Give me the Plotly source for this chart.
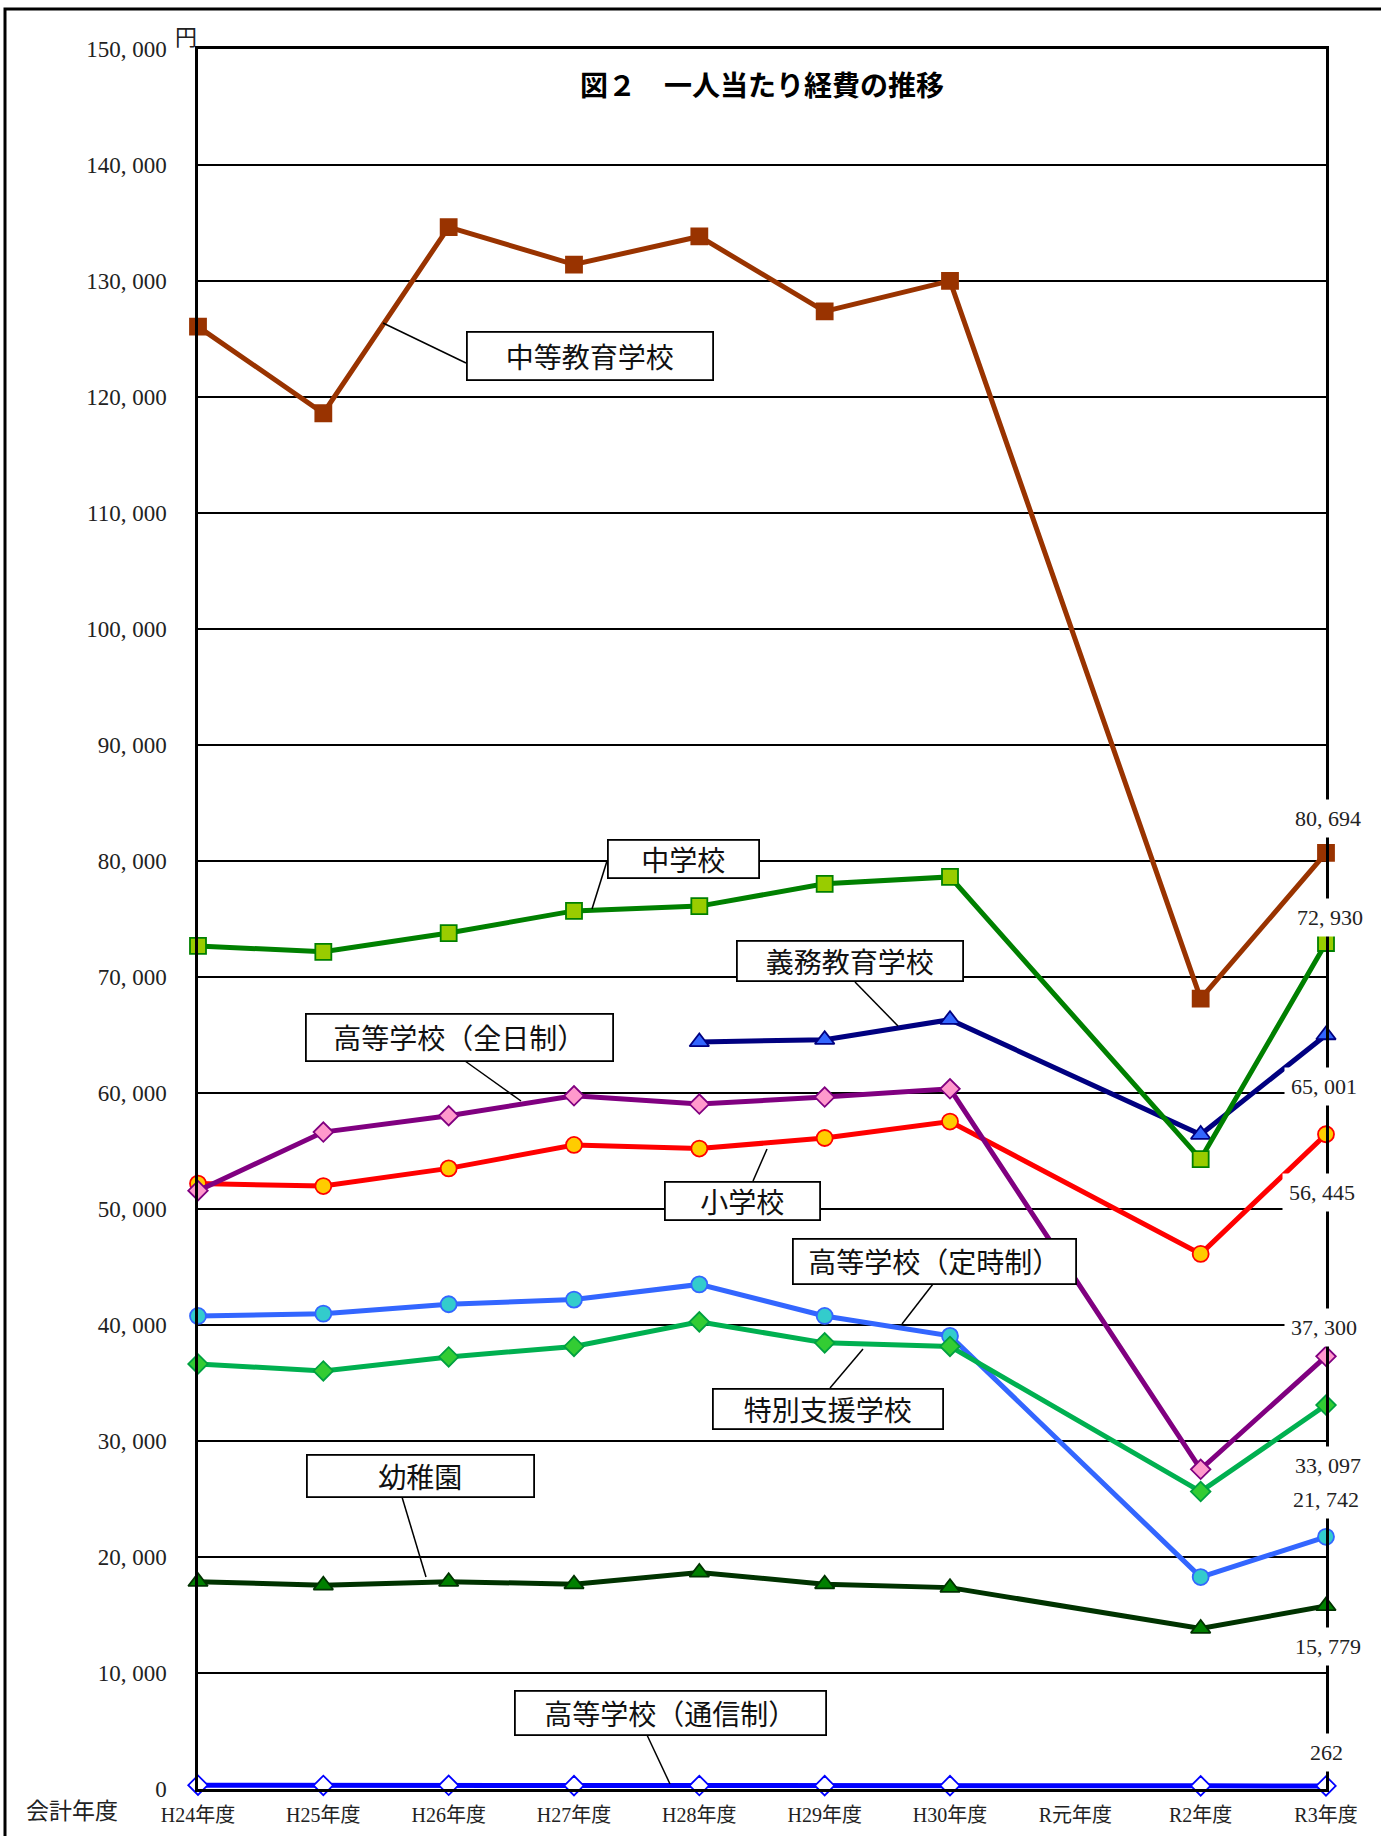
import plotly.graph_objects as go

# ---------------- data ----------------
categories = ["H24年度", "H25年度", "H26年度", "H27年度", "H28年度",
              "H29年度", "H30年度", "R元年度", "R2年度", "R3年度"]

yochien   = [17870, 17560, 17870, 17660, 18670, 17660, 17360, None, 13830, 15779]
shogakko  = [52190, 51980, 53500, 55520, 55210, 56120, 57540, None, 46130, 56445]
gimu      = [None, None, None, None, 64400, 64600, 66320, None, 56420, 65001]
chugakko  = [72680, 72170, 73790, 75700, 76110, 78030, 78630, None, 54300, 72930]
chuto     = [126070, 118600, 134650, 131420, 133840, 127380, 130010, None, 68130, 80694]
zennichi  = [51580, 56630, 58040, 59760, 59050, 59650, 60360, None, 27560, 37300]
teiji     = [40780, 40980, 41790, 42190, 43500, 40780, 39060, None, 18270, 21742]
tsushin   = [330, 310, 320, 290, 300, 290, 290, None, 270, 262]
tokubetsu = [36640, 36040, 37250, 38150, 40270, 38460, 38150, None, 25640, 33097]

y_tick_values = [0, 10000, 20000, 30000, 40000, 50000, 60000, 70000, 80000,
                 90000, 100000, 110000, 120000, 130000, 140000, 150000]
y_tick_labels = ["0", "10, 000", "20, 000", "30, 000", "40, 000", "50, 000",
                 "60, 000", "70, 000", "80, 000", "90, 000", "100, 000",
                 "110, 000", "120, 000", "130, 000", "140, 000", "150, 000"]

title_text = "図２　一人当たり経費の推移"
unit_text = "円"
xaxis_title = "会計年度"

# ---------------- layout geometry (pixels) ----------------
W, H = 1381, 1836
L, R, T, B = 198, 1326, 49, 1789
PW, PH = R - L, B - T


def px(x):
    return (x - L) / PW


def py(y):
    return (B - y) / PH


SERIF = "Liberation Serif, DejaVu Serif, serif"
JP = "Noto Sans CJK JP, sans-serif"
MIX = "Liberation Serif, Noto Sans CJK JP, serif"

# name, values, line color, marker symbol, marker fill, marker border, size
series = [
    ("幼稚園", yochien, "#003300", "triangle-up", "#008000", "#003300", 17),
    ("小学校", shogakko, "#FF0000", "circle", "#FFCC00", "#FF0000", 16),
    ("義務教育学校", gimu, "#000080", "triangle-up", "#3366FF", "#000080", 17),
    ("中学校", chugakko, "#008000", "square", "#99CC00", "#008000", 16),
    ("中等教育学校", chuto, "#993300", "square", "#993300", "#993300", 16),
    ("高等学校（全日制）", zennichi, "#800080", "diamond", "#FF99CC", "#800080", 15),
    ("高等学校（定時制）", teiji, "#3366FF", "circle", "#33CCCC", "#3366FF", 16),
    ("高等学校（通信制）", tsushin, "#0000FF", "diamond", "#FFFFFF", "#0000FF", 15),
    ("特別支援学校", tokubetsu, "#00B050", "diamond", "#33CC33", "#00A040", 15),
]

fig = go.Figure()
for name, vals, lc, sym, fill, border, size in series:
    fig.add_trace(go.Scatter(
        x=categories, y=vals, name=name, mode="lines+markers",
        connectgaps=True, cliponaxis=False,
        line=dict(color=lc, width=5),
        marker=dict(symbol=sym, size=size, color=fill,
                    line=dict(color=border, width=1.8)),
    ))

annotations = []
shapes = []

# outer frame
shapes.append(dict(type="rect", xref="paper", yref="paper",
                   x0=px(5), y0=py(9), x1=px(W + 20), y1=py(H + 20),
                   line=dict(color="black", width=3), fillcolor="rgba(0,0,0,0)",
                   layer="below"))

# callout boxes: name -> (box x0, y0, x1, y1, leader start, leader end)
callouts = {
    "中等教育学校": (466, 331, 713, 380, (466, 363), (383, 323)),
    "中学校": (607, 839, 759, 878, (607, 861), (592, 909)),
    "義務教育学校": (736, 941, 963, 982, (855, 982), (898, 1026)),
    "高等学校（全日制）": (305, 1013, 613, 1061, (465, 1061), (521, 1101)),
    "小学校": (664, 1181, 820, 1220, (753, 1181), (767, 1149)),
    "高等学校（定時制）": (792, 1238, 1076, 1284, (933, 1284), (902, 1324)),
    "特別支援学校": (712, 1388, 943, 1429, (830, 1388), (863, 1349)),
    "幼稚園": (306, 1454, 534, 1497, (402, 1497), (426, 1577)),
    "高等学校（通信制）": (514, 1690, 826, 1735, (647, 1735), (670, 1784)),
}
for name, (x0, y0, x1, y1, p0, p1) in callouts.items():
    shapes.append(dict(type="line", xref="paper", yref="paper",
                       x0=px(p0[0]), y0=py(p0[1]), x1=px(p1[0]), y1=py(p1[1]),
                       line=dict(color="black", width=1.5)))
    annotations.append(dict(
        xref="paper", yref="paper", x=px((x0 + x1) / 2), y=py((y0 + y1) / 2),
        xanchor="center", yanchor="middle", showarrow=False,
        text=name, font=dict(family=JP, size=28, color="#111111"),
        width=x1 - x0 - 3, height=y1 - y0 - 3, borderpad=0,
        bordercolor="black", borderwidth=1.8, bgcolor="white", align="center",
    ))

# value labels at last point (R3)
label_offsets = {
    "中等教育学校": (2, 34), "中学校": (4, 26), "義務教育学校": (-2, -52),
    "小学校": (-4, -58), "高等学校（全日制）": (-2, 29), "特別支援学校": (2, -60),
    "高等学校（定時制）": (0, 37), "幼稚園": (2, -41), "高等学校（通信制）": (0, 33),
}
for name, vals, *_ in series:
    v = vals[-1]
    dx, dy = label_offsets[name]
    annotations.append(dict(
        x=categories[-1], y=v, xref="x", yref="y", showarrow=False,
        text=f"{v:,}".replace(",", ", "), xshift=dx, yshift=dy,
        font=dict(family=SERIF, size=22, color="#222222"),
        bgcolor="white", borderpad=6, xanchor="center", yanchor="middle",
    ))

# title
annotations.append(dict(xref="paper", yref="paper", x=px(762), y=py(84),
                        xanchor="center", yanchor="middle", showarrow=False,
                        text=title_text,
                        font=dict(family=JP, size=28, color="black", weight="bold")))
# unit
annotations.append(dict(xref="paper", yref="paper", x=px(186), y=py(35),
                        xanchor="center", yanchor="middle", showarrow=False,
                        text=unit_text, font=dict(family=JP, size=22, color="#222222")))
# x-axis title
annotations.append(dict(xref="paper", yref="paper", x=px(72), y=py(1809),
                        xanchor="center", yanchor="middle", showarrow=False,
                        text=xaxis_title, font=dict(family=JP, size=23, color="#222222")))

fig.update_layout(
    width=W, height=H, autosize=False,
    margin=dict(l=L, r=W - R, t=T, b=H - B, pad=0, autoexpand=False),
    paper_bgcolor="white", plot_bgcolor="white",
    showlegend=False,
    annotations=annotations, shapes=shapes,
    xaxis=dict(type="category", categoryorder="array", categoryarray=categories,
               range=[0, len(categories) - 1], showgrid=False, zeroline=False,
               automargin=False,
               showline=True, linecolor="black", linewidth=2.5, mirror=True,
               ticks="", tickfont=dict(family=MIX, size=20, color="#222222"),
               ticklabelstandoff=6),
    yaxis=dict(range=[0, 150000], tickvals=y_tick_values, ticktext=y_tick_labels,
               automargin=False,
               showgrid=True, gridcolor="black", gridwidth=2.2, zeroline=False,
               showline=True, linecolor="black", linewidth=2.5, mirror=True,
               ticks="", tickfont=dict(family=SERIF, size=23, color="#222222"),
               ticklabelstandoff=24),
)

fig.write_html("out.html", config={"displayModeBar": False},
               post_script="document.body.style.margin='0';document.body.style.overflow='hidden';")
